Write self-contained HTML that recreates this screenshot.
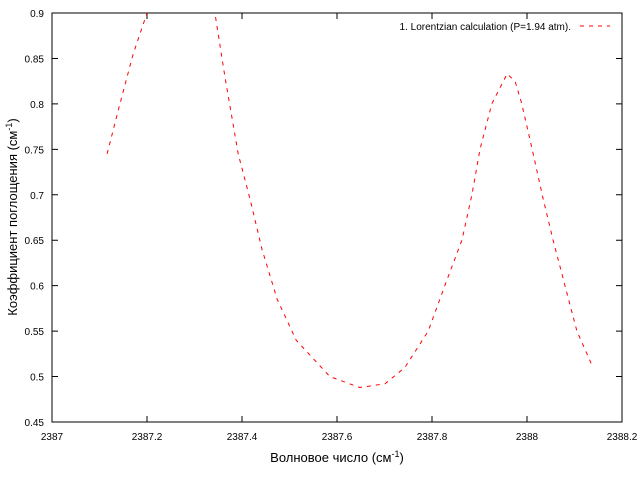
<!DOCTYPE html>
<html><head><meta charset="utf-8"><style>
body{margin:0;background:#fff;width:640px;height:480px;overflow:hidden}
svg{font-family:"Liberation Sans","DejaVu Sans",sans-serif;font-size:10px}
</style></head><body>
<svg id="chart" width="640" height="480">
<defs><clipPath id="clip"><rect x="52" y="13" width="570" height="409"/></clipPath></defs>
<rect x="52" y="13" width="570" height="409" fill="none" stroke="#000" stroke-width="1"/>
<g id="xticks"></g>
<g id="yticks"></g>
<text x="337" y="462" text-anchor="middle" font-size="13">Волновое число (см<tspan dy="-5" font-size="9">-1</tspan><tspan dy="5">)</tspan></text>
<text transform="translate(17,217) rotate(-90)" text-anchor="middle" font-size="13">Коэффициент поглощения (см<tspan dy="-5" font-size="9">-1</tspan><tspan dy="5">)</tspan></text>
<g>
<text x="571" y="30" text-anchor="end">1. Lorentzian calculation  (P=1.94 atm).</text>
<line x1="580" y1="26" x2="610" y2="26" stroke="#f00" stroke-dasharray="4,5"/>
</g>
<path id="series" fill="none" stroke="#f00" stroke-width="1" stroke-dasharray="4,5" clip-path="url(#clip)"/>
</svg>
<script>
const xValues=[2387.116,2387.143,2387.171,2387.200,2387.259,2387.312,2387.343,2387.364,2387.392,2387.417,2387.442,2387.474,2387.514,2387.585,2387.648,2387.701,2387.743,2387.792,2387.827,2387.863,2387.884,2387.901,2387.926,2387.958,2387.975,2387.989,2388.011,2388.032,2388.055,2388.080,2388.105,2388.139];
const yValues=[0.745,0.80,0.855,0.90,0.95,0.94,0.90,0.83,0.745,0.695,0.64,0.585,0.54,0.50,0.488,0.492,0.51,0.55,0.60,0.65,0.70,0.75,0.80,0.833,0.825,0.80,0.75,0.70,0.65,0.60,0.55,0.51];
const xTicks=[2387,2387.2,2387.4,2387.6,2387.8,2388,2388.2];
const xTickLabels=["2387","2387.2","2387.4","2387.6","2387.8","2388","2388.2"];
const yTicks=[0.45,0.5,0.55,0.6,0.65,0.7,0.75,0.8,0.85,0.9];
const yTickLabels=["0.45","0.5","0.55","0.6","0.65","0.7","0.75","0.8","0.85","0.9"];
const L=52,R=622,T=13,B=422;
const sx=v=>L+(v-2387)/1.2*(R-L);
const sy=v=>B-(v-0.45)/0.45*(B-T);
const NS="http://www.w3.org/2000/svg";
const xg=document.getElementById('xticks'),yg=document.getElementById('yticks');
xTicks.forEach((t,i)=>{
 const x=sx(t);
 const l=document.createElementNS(NS,'path');
 l.setAttribute('d',`M${x},${B}v-6M${x},${T}v6`);l.setAttribute('stroke','#000');
 
 
 xg.appendChild(l);
 const tx=document.createElementNS(NS,'text');
 tx.setAttribute('x',x);tx.setAttribute('y',440);tx.setAttribute('text-anchor','middle');
 tx.textContent=xTickLabels[i];
 
 
 xg.appendChild(tx);
});
yTicks.forEach((t,i)=>{
 const y=sy(t);
 const l=document.createElementNS(NS,'path');
 l.setAttribute('d',`M${L},${y}h6M${R},${y}h-6`);l.setAttribute('stroke','#000');
 
 
 yg.appendChild(l);
 const tx=document.createElementNS(NS,'text');
 tx.setAttribute('x',44);tx.setAttribute('y',y+4);tx.setAttribute('text-anchor','end');
 tx.textContent=yTickLabels[i];
 
 
 yg.appendChild(tx);
});
document.getElementById('series').setAttribute('d',xValues.map((x,i)=>(i?'L':'M')+sx(x).toFixed(1)+','+sy(yValues[i]).toFixed(1)).join(''));
</script>
</body></html>
